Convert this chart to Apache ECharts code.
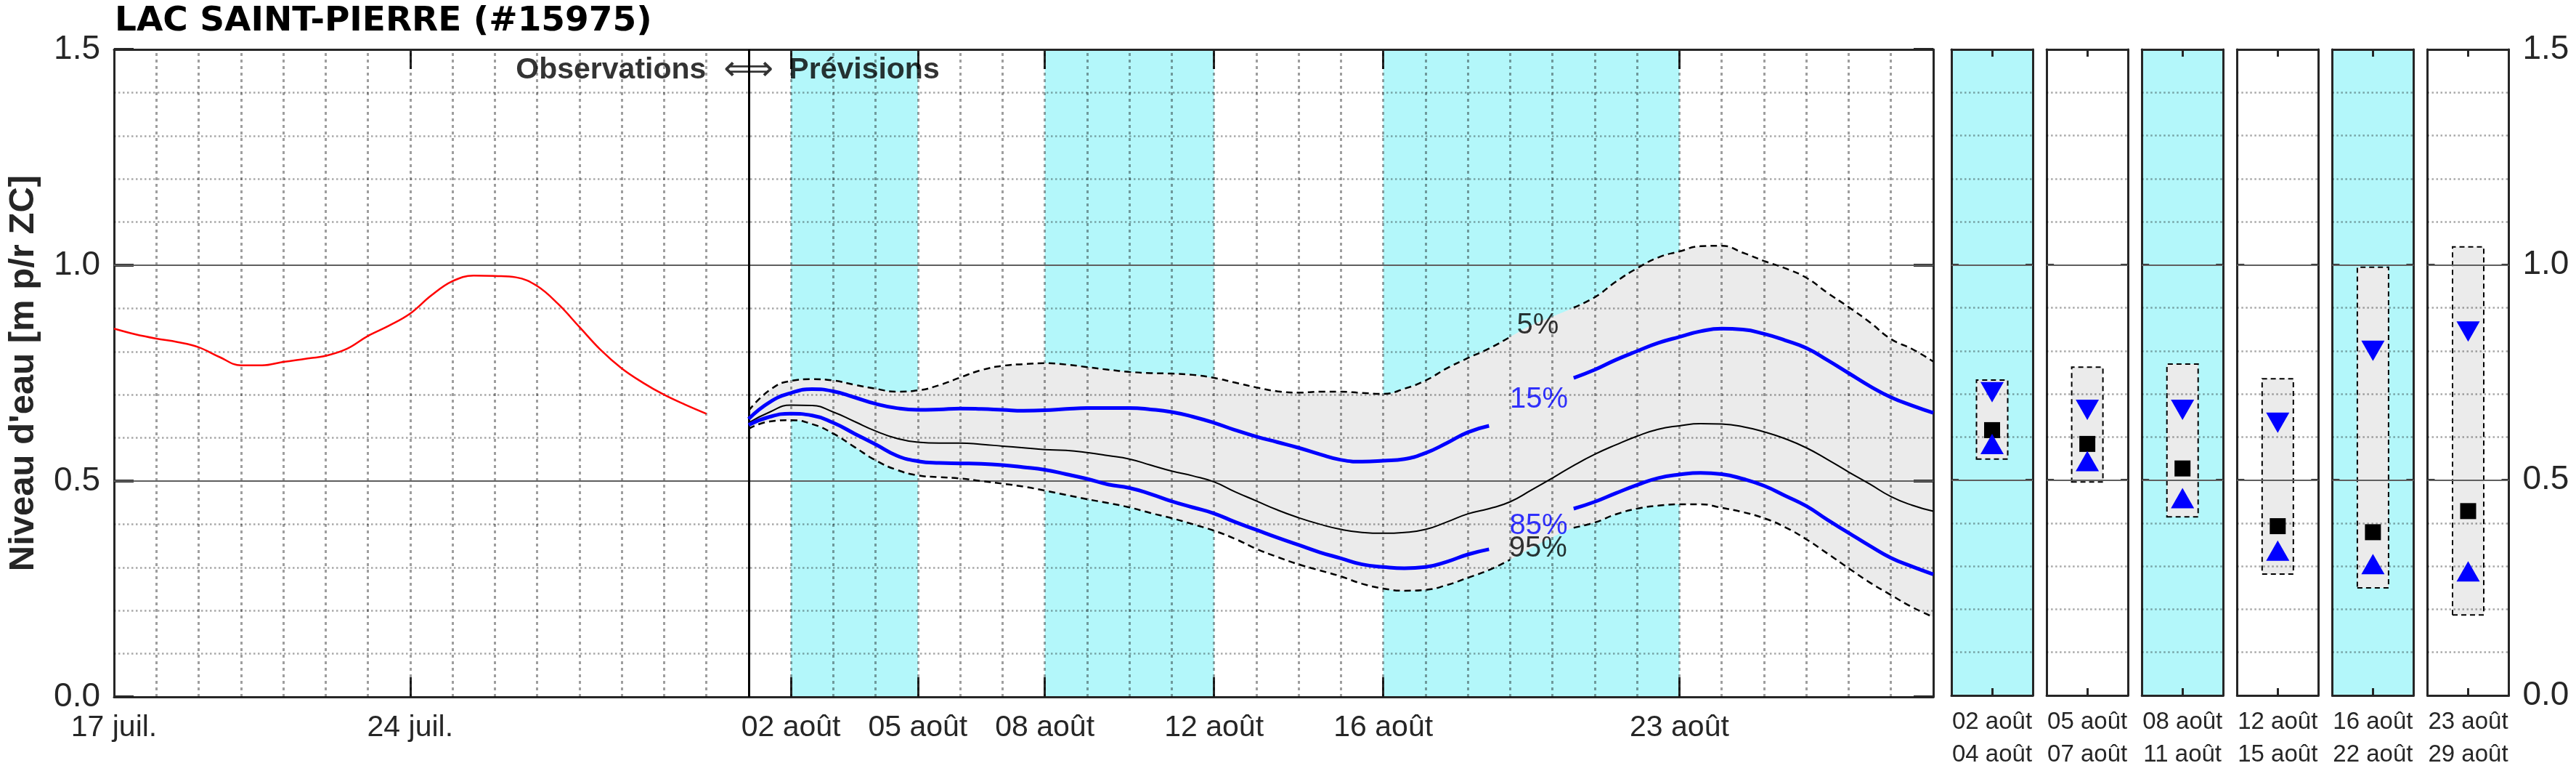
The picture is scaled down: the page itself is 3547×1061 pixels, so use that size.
<!DOCTYPE html>
<html>
<head>
<meta charset="utf-8">
<script src="https://cdn.jsdelivr.net/npm/echarts@6/dist/echarts.min.js"></script>
<style>html,body{margin:0;padding:0;background:#fff}#c{width:3547px;height:1061px}</style>
</head>
<body>
<div id="c"></div>
<script>
// ---------- DATA ----------
const titleText = 'LAC SAINT-PIERRE (#15975)';
const yTitle = "Niveau d'eau [m p/r ZC]";

// main time axis (days since 17 juil.)
const tickDays = [0, 7, 16, 19, 22, 26, 30, 37];
const tickLabels = ['17 juil.', '24 juil.', '02 août', '05 août', '08 août', '12 août', '16 août', '23 août'];
const bandStart = [16, 22, 30];
const bandEnd = [19, 26, 37];
const forecastStart = 15;

// observed water level
const obsDays = [0,0.5,1,1.5,2,2.5,3,3.5,4,4.5,5,5.5,6,6.5,7,7.5,8,8.5,9,9.5,10,10.5,11,11.5,12,12.5,13,13.5,14];
const obsLevel = [0.853,0.840,0.830,0.822,0.810,0.787,0.768,0.768,0.776,0.783,0.790,0.806,0.836,0.860,0.888,0.930,0.963,0.976,0.975,0.972,0.952,0.910,0.857,0.804,0.761,0.728,0.700,0.677,0.656];

// forecast percentiles
const fcDays = [15,15.5,16,16.5,17,17.5,18,18.5,19,19.5,20,20.5,21,21.5,22,22.5,23,23.5,24,24.5,25,25.5,26,26.5,27,27.5,28,28.5,29,29.5,30,30.5,31,31.5,32,32.5,33,33.5,34,34.5,35,35.5,36,36.5,37,37.5,38,38.5,39,39.5,40,40.5,41,41.5,42,42.5,43];
const p05 = [0.663,0.711,0.732,0.736,0.733,0.723,0.714,0.707,0.710,0.722, 0.740,0.757,0.767,0.771,0.773,0.770,0.764,0.758,0.753,0.750, 0.749,0.746,0.739,0.728,0.717,0.708,0.705,0.707,0.707,0.704, 0.702,0.714,0.733,0.761,0.785,0.807,0.834,0.861,0.881,0.902, 0.926,0.962,0.993,1.018,1.032,1.044,1.045,1.029,1.010,0.993, 0.971,0.936,0.903,0.868,0.829,0.806,0.777];
const p15 = [0.644,0.683,0.704,0.713,0.708,0.694,0.679,0.669,0.665,0.666, 0.668,0.667,0.665,0.663,0.664,0.667,0.669,0.669,0.669,0.666, 0.660,0.649,0.635,0.618,0.603,0.590,0.577,0.562,0.549,0.545, 0.547,0.551,0.565,0.588,0.613,0.628,0.655,0.683,0.711,0.739, 0.758,0.781,0.801,0.820,0.834,0.847,0.853,0.851,0.841,0.826, 0.808,0.780,0.750,0.720,0.694,0.675,0.658];
const p50 = [0.635,0.660,0.676,0.675,0.660,0.638,0.616,0.599,0.590,0.588, 0.588,0.585,0.581,0.577,0.573,0.571,0.566,0.559,0.551,0.537, 0.523,0.512,0.498,0.475,0.454,0.433,0.415,0.400,0.388,0.381, 0.379,0.381,0.388,0.405,0.424,0.436,0.452,0.479,0.507,0.536, 0.562,0.584,0.604,0.620,0.628,0.633,0.632,0.626,0.614,0.598, 0.577,0.550,0.521,0.493,0.464,0.444,0.430];
const p85 = [0.630,0.649,0.656,0.652,0.635,0.610,0.585,0.559,0.546,0.542, 0.541,0.540,0.537,0.532,0.526,0.516,0.505,0.492,0.484,0.470, 0.453,0.439,0.425,0.405,0.387,0.369,0.352,0.335,0.321,0.307, 0.301,0.298,0.301,0.313,0.330,0.342,0.370,0.395,0.417,0.436, 0.452,0.472,0.491,0.507,0.515,0.519,0.516,0.505,0.489,0.466, 0.442,0.410,0.380,0.350,0.322,0.302,0.284];
const p95 = [0.621,0.638,0.641,0.632,0.610,0.579,0.548,0.526,0.513,0.509, 0.506,0.500,0.494,0.487,0.478,0.468,0.458,0.449,0.439,0.426, 0.414,0.400,0.385,0.366,0.343,0.324,0.307,0.293,0.279,0.262, 0.251,0.246,0.248,0.259,0.276,0.294,0.318,0.345,0.370,0.392, 0.404,0.423,0.436,0.443,0.446,0.446,0.438,0.428,0.414,0.393, 0.365,0.332,0.298,0.265,0.236,0.208,0.185];

// curve labels
const pctText = ['5%', '15%', '85%', '95%'];
const pctDay = [33.65, 33.68, 33.67, 33.66];
const pctLevel = [0.860, 0.689, 0.396, 0.344];
const pctColor = ['#000000', '#0000ff', '#0000ff', '#000000'];
// days hidden under each label (line gaps)
const gapP05 = [33.5, 34];
const gapP15 = [33, 33.5, 34];
const gapP85 = [33, 33.5, 34];
const gapP95 = [33.5, 34];

// period summary panels
const panelStart = ['02 août', '05 août', '08 août', '12 août', '16 août', '23 août'];
const panelEnd   = ['04 août', '07 août', '11 août', '15 août', '22 août', '29 août'];
const panelCyan  = [true, false, true, false, true, false];
const panelP05 = [0.734, 0.764, 0.771, 0.737, 0.996, 1.043];
const panelP15 = [0.704, 0.663, 0.663, 0.633, 0.800, 0.845];
const panelP50 = [0.616, 0.584, 0.527, 0.393, 0.379, 0.428];
const panelP85 = [0.584, 0.544, 0.458, 0.336, 0.305, 0.288];
const panelP95 = [0.547, 0.494, 0.413, 0.280, 0.248, 0.185];

// ---------- STYLE / LAYOUT ----------
const CYAN = '#b3f7fa';
const AX = '#262626';
const FONT = 'Liberation Sans';
const dotY = {color: 'rgba(0,0,0,0.34)', width: 2.5, type: [2.5, 3.5]};
const dotX = {color: 'rgba(0,0,0,0.38)', width: 3, type: [4, 5]};
const majorLine = {color: '#5f5f5f', width: 2, type: 'solid'};

const grids = [{left: 154, top: 68, width: 2508, height: 891, z: -5}];
panelStart.forEach((_, i) => {
  grids.push({left: 2687 + 131.1 * i, top: 68, width: 112, height: 891, z: -5,
    show: panelCyan[i], backgroundColor: panelCyan[i] ? CYAN : 'transparent', borderWidth: 0});
});

// half-day category axis used to stack the envelope fill
const envCats = [];
for (let k = 0; k <= 86; k++) envCats.push(String(k / 2));

// grid line positions (drawn on top of the shading, like the original)
const gridDays = [];
for (let d = 1; d < 43; d++) gridDays.push(d);
const gridLevels = [];
for (let k = 1; k < 15; k++) gridLevels.push(k / 10);
function hGrid() {
  return gridLevels.map((v, k) => ({yAxis: v, lineStyle: ((k + 1) % 5 === 0) ? majorLine : dotY}));
}
function vGrid() { return gridDays.map(d => ({xAxis: d, lineStyle: dotX})); }

function xMain(pos) {
  const bottom = pos === 'bottom';
  return {
    gridIndex: 0, type: 'value', position: pos, min: 0, max: 43, interval: 1,
    axisLine: {show: true, onZero: false, lineStyle: {color: AX, width: 3}},
    axisTick: {show: true, inside: true, length: 27, customValues: tickDays, lineStyle: {color: AX, width: 3}},
    axisLabel: {show: bottom, customValues: tickDays, margin: 22, fontSize: 41, fontFamily: FONT, color: AX,
      formatter: v => { const k = tickDays.indexOf(v); return k >= 0 ? tickLabels[k] : ''; }},
    splitLine: {show: false}
  };
}
function xPanel(i, pos) {
  const bottom = pos === 'bottom';
  return {
    gridIndex: i + 1, type: 'category', position: pos, data: [panelStart[i] + '\n' + panelEnd[i]], boundaryGap: true,
    axisLine: {show: true, onZero: false, lineStyle: {color: AX, width: 3}},
    axisTick: {show: true, inside: true, length: 10, alignWithLabel: true, lineStyle: {color: AX, width: 3}},
    axisLabel: {show: bottom, interval: 0, margin: 14, fontSize: 33, lineHeight: 45, fontFamily: FONT, color: AX},
    splitLine: {show: false}
  };
}
function yAx(g, pos, tick, tickW, labels) {
  return {
    gridIndex: g, type: 'value', position: pos, min: 0, max: 1.5, interval: 0.5,
    axisLine: {show: true, onZero: false, lineStyle: {color: AX, width: 3}},
    axisTick: {show: true, inside: true, length: tick, lineStyle: {color: AX, width: tickW}},
    axisLabel: {show: labels, margin: 19, fontSize: 46, fontFamily: FONT, color: AX, padding: [10, 0, 0, 0],
      formatter: v => v.toFixed(1)},
    splitLine: {show: false}
  };
}

const xAxes = [xMain('bottom'), xMain('top'),
  {gridIndex: 0, type: 'category', show: false, boundaryGap: false, data: envCats}];
const yAxes = [yAx(0, 'left', 27, 4, true), yAx(0, 'right', 27, 4, false)];
Object.assign(yAxes[0], {name: yTitle, nameLocation: 'middle', nameGap: 100,
  nameTextStyle: {fontFamily: FONT, fontWeight: 'bold', fontSize: 49, color: AX}});
panelStart.forEach((_, i) => {
  xAxes.push(xPanel(i, 'bottom'), xPanel(i, 'top'));
  yAxes.push(yAx(i + 1, 'left', 10, 3, false), yAx(i + 1, 'right', 10, 3, i === panelStart.length - 1));
});

// ---------- SERIES ----------
const series = [];
// 5%-95% envelope (stacked on the half-day category axis)
function onCats(fn) { return envCats.map(c => { const j = fcDays.indexOf(+c); return j >= 0 ? fn(j) : '-'; }); }
series.push({type: 'line', xAxisIndex: 2, yAxisIndex: 0, stack: 'env', smooth: 0.5, symbol: 'none', silent: true, z: -2,
  lineStyle: {opacity: 0}, data: onCats(j => p95[j])});
series.push({type: 'line', xAxisIndex: 2, yAxisIndex: 0, stack: 'env', smooth: 0.5, symbol: 'none', silent: true, z: -2,
  lineStyle: {opacity: 0}, areaStyle: {color: '#ebebeb', opacity: 1},
  data: onCats(j => +(p05[j] - p95[j]).toFixed(4))});

function lineData(vals, gap) { return fcDays.map((d, i) => [d, gap.indexOf(d) >= 0 ? '-' : vals[i]]); }
function fcLine(vals, gap, style) {
  return {type: 'line', xAxisIndex: 0, yAxisIndex: 0, smooth: 0.5, symbol: 'none', silent: true, z: 6,
    connectNulls: false, lineStyle: style, data: lineData(vals, gap)};
}
series.push(fcLine(p05, gapP05, {color: '#000', width: 2.5, type: [9, 6]}));
series.push(fcLine(p95, gapP95, {color: '#000', width: 2.5, type: [9, 6]}));
series.push(fcLine(p50, [], {color: '#000', width: 2}));
series.push(fcLine(p15, gapP15, {color: '#0000ff', width: 5}));
series.push(fcLine(p85, gapP85, {color: '#0000ff', width: 5}));

// observations + grid lines + forecast start line + forecast period shading
series.push({type: 'line', xAxisIndex: 0, yAxisIndex: 0, smooth: 0.4, symbol: 'none', silent: true, z: 6,
  lineStyle: {color: '#ff0000', width: 2.5}, data: obsDays.map((d, i) => [d, obsLevel[i]]),
  markLine: {silent: true, z: 3, symbol: ['none', 'none'], label: {show: false}, animation: false,
    data: vGrid().concat(hGrid(), [{xAxis: forecastStart, lineStyle: {color: '#000', width: 3, type: 'solid'}}])},
  markArea: {silent: true, z: -3, animation: false, itemStyle: {color: CYAN, opacity: 1}, label: {show: false},
    data: bandStart.map((s, k) => [{xAxis: s}, {xAxis: bandEnd[k]}])}});

// percentile labels
series.push({type: 'scatter', xAxisIndex: 0, yAxisIndex: 0, symbolSize: 1, silent: true, z: 7,
  itemStyle: {color: 'transparent'},
  label: {show: true, position: 'inside', fontSize: 40, fontFamily: FONT},
  data: pctText.map((t, k) => ({value: [pctDay[k], pctLevel[k]], label: {formatter: t, color: pctColor[k]}}))});

// Observations <=> Prévisions
series.push({type: 'scatter', xAxisIndex: 0, yAxisIndex: 0, symbolSize: 1, silent: true, z: 7,
  itemStyle: {color: 'transparent'},
  label: {show: true, fontSize: 41, fontFamily: FONT, fontWeight: 'bold', color: '#000'},
  data: [
    {value: [forecastStart, 1.451], label: {formatter: 'Observations', position: 'left', distance: 58}},
    {value: [forecastStart, 1.451], label: {formatter: '⟺', position: 'inside', fontWeight: 'normal', fontFamily: 'DejaVu Sans', fontSize: 48}},
    {value: [forecastStart, 1.451], label: {formatter: 'Prévisions', position: 'right', distance: 55}}
  ]});

// panels
panelStart.forEach((_, i) => {
  const xi = 3 + 2 * i, yi = 2 + 2 * i;
  series.push({type: 'bar', xAxisIndex: xi, yAxisIndex: yi, stack: 'pr' + i, barWidth: 45, silent: true, z: -2,
    itemStyle: {color: 'transparent'}, data: [panelP95[i]]});
  series.push({type: 'bar', xAxisIndex: xi, yAxisIndex: yi, stack: 'pr' + i, barWidth: 45, silent: true, z: -2,
    itemStyle: {color: '#ebebeb', borderColor: '#000', borderWidth: 2, borderType: [7, 5]},
    data: [+(panelP05[i] - panelP95[i]).toFixed(3)]});
  series.push({type: 'scatter', xAxisIndex: xi, yAxisIndex: yi, symbol: 'triangle', symbolRotate: 180, symbolSize: [32, 28],
    silent: true, z: 6, itemStyle: {color: '#0000ff', opacity: 1}, data: [[0, panelP15[i]]]});
  series.push({type: 'scatter', xAxisIndex: xi, yAxisIndex: yi, symbol: 'rect', symbolSize: 22,
    silent: true, z: 6, itemStyle: {color: '#000000', opacity: 1}, data: [[0, panelP50[i]]],
    markLine: {silent: true, z: 3, symbol: ['none', 'none'], label: {show: false}, animation: false, data: hGrid()}});
  series.push({type: 'scatter', xAxisIndex: xi, yAxisIndex: yi, symbol: 'triangle', symbolSize: [32, 28],
    silent: true, z: 6, itemStyle: {color: '#0000ff', opacity: 1}, data: [[0, panelP85[i]]]});
});

const chart = echarts.init(document.getElementById('c'), null, {renderer: 'canvas'});
chart.setOption({
  animation: false,
  backgroundColor: '#ffffff',
  textStyle: {fontFamily: FONT},
  title: {text: titleText, left: 158, top: 6, padding: 0,
    textStyle: {fontFamily: 'DejaVu Sans', fontWeight: 'bold', fontSize: 47, color: '#000'}},
  grid: grids,
  xAxis: xAxes,
  yAxis: yAxes,
  series: series
});
</script>
</body>
</html>
